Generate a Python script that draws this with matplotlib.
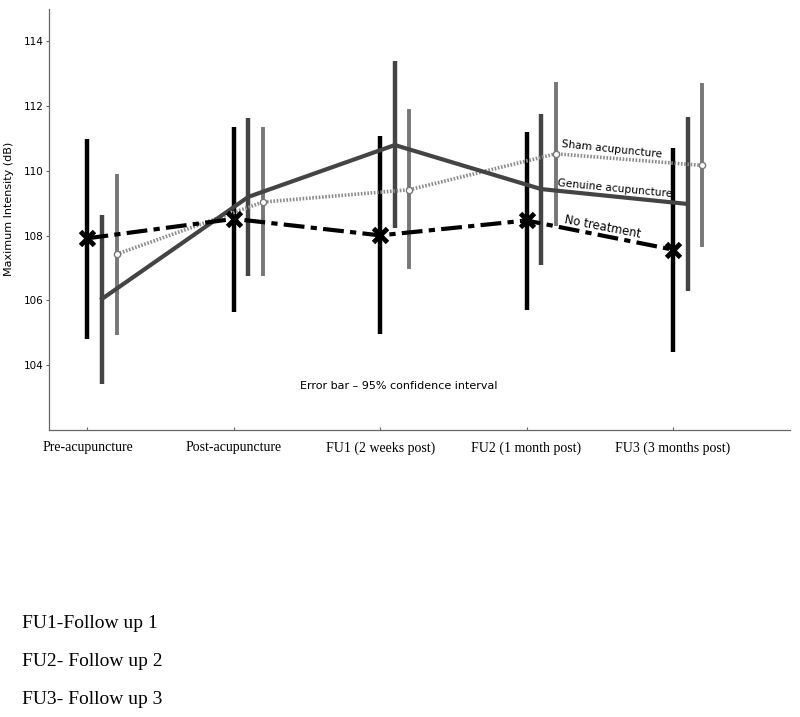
import numpy as np
import matplotlib.pyplot as plt

# Datos
timepoints = ["Pre-acupuncture", "Post-acupuncture", "FU1 (2 weeks post)",
              "FU2 (1 month post)", "FU3 (3 months post)"]

no_treat_mean = [107.92, 108.52, 108.01, 108.47, 107.57]
no_treat_low = [104.82, 105.65, 104.96, 105.71, 104.41]
no_treat_high = [110.99, 111.37, 111.07, 111.20, 110.71]

genuine_mean = [106.05, 109.20, 110.80, 109.44, 108.98]
genuine_low = [103.41, 106.76, 108.25, 107.10, 106.30]
genuine_high = [108.65, 111.62, 113.39, 111.77, 111.66]

sham_mean = [107.43, 109.04, 109.42, 110.53, 110.17]
sham_low = [104.94, 106.74, 106.97, 108.31, 107.64]
sham_high = [109.91, 111.36, 111.90, 112.74, 112.71]

yticks = [104, 106, 108, 110, 112, 114]
footnotes = ["FU1-Follow up 1", "FU2- Follow up 2", "FU3- Follow up 3"]

x = np.arange(len(timepoints))

fig = plt.figure(figsize=(8, 7.17), dpi=100)
ax = fig.add_axes([0.061, 0.4003, 0.9265, 0.5871])

# Barras de error (IC 95%)
ax.vlines(x, no_treat_low, no_treat_high, color="black", lw=3.2, zorder=2)
ax.vlines(x + 0.1, genuine_low, genuine_high, color="#444444", lw=3.2, zorder=2)
ax.vlines(x + 0.2, sham_low, sham_high, color="#777777", lw=2.8, zorder=2)

# Lineas de medias
ax.plot(x + 0.2, sham_mean, color="#8c8c8c", lw=2.6, ls=(0, (0.45, 0.45)), zorder=3,
        marker="o", ms=4.5, mfc="white", mec="#777777", mew=1)
ax.plot(x + 0.1, genuine_mean, color="#444444", lw=3, ls="-", zorder=4)
ax.plot(x, no_treat_mean, color="black", lw=3, ls=(0, (5, 1.5, 1.5, 1.5)), zorder=5,
        marker="x", ms=10, mew=3.5)

# Etiquetas de las series
ax.text(3.584, 110.66, "Sham acupuncture", rotation=-6, ha="center", va="center",
        fontsize=7.7, family="DejaVu Sans", color="black")
ax.text(3.601, 109.47, "Genuine acupuncture", rotation=-5.5, ha="center", va="center",
        fontsize=7.7, family="DejaVu Sans", color="black")
ax.text(3.519, 108.27, "No treatment", rotation=-11, ha="center", va="center",
        fontsize=8.3, family="DejaVu Sans", color="black")
ax.text(2.126, 103.36, "Error bar \u2013 95% confidence interval", ha="center", va="center",
        fontsize=8, family="DejaVu Sans", color="black")

ax.set_xlim(-0.264, 4.8)
ax.set_ylim(102, 115)
ax.set_xticks(x)
ax.set_xticklabels(timepoints, family="Liberation Serif", fontsize=10)
ax.set_yticks(yticks)
ax.set_yticklabels([str(v) for v in yticks], family="DejaVu Sans", fontsize=7.5)
ax.tick_params(axis="x", direction="in", length=2, pad=8, color="#666666")
ax.tick_params(axis="y", direction="out", length=2.5, pad=1.5, color="#666666")
ax.set_ylabel("Maximum Intensity (dB)", family="DejaVu Sans", fontsize=8)
ax.yaxis.set_label_coords(-0.047, 0.525)

for side in ["top", "right"]:
    ax.spines[side].set_visible(False)
for side in ["left", "bottom"]:
    ax.spines[side].set_color("#666666")
    ax.spines[side].set_linewidth(0.9)

# Notas al pie
for i, note in enumerate(footnotes):
    fig.text(22 / 800, 1 - (624 + 38 * i) / 717, note, family="Liberation Serif",
             fontsize=14, ha="left", va="center")

fig.savefig("out.png", dpi=100, facecolor="white")
plt.close(fig)
